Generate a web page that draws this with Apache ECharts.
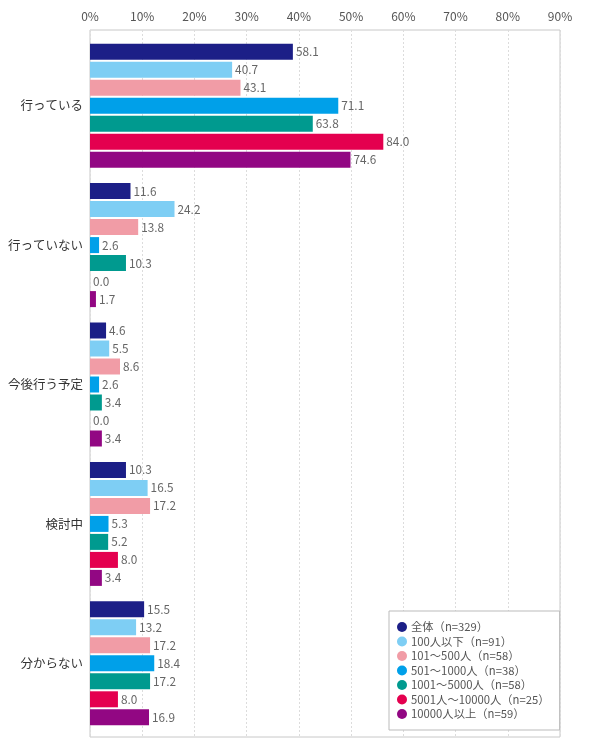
<!DOCTYPE html>
<html>
<head>
<meta charset="utf-8">
<script src="https://cdn.jsdelivr.net/npm/echarts@6/dist/echarts.min.js"></script>
<style>
html, body { margin: 0; padding: 0; background: #fff; }
#main { width: 590px; height: 752px; }
</style>
</head>
<body>
<div id="main"></div>
<script>
var categories = ['行っている', '行っていない', '今後行う予定', '検討中', '分からない'];
var groupNames = ['全体（n=329）', '100人以下（n=91）', '101～500人（n=58）', '501～1000人（n=38）',
                  '1001～5000人（n=58）', '5001人～10000人（n=25）', '10000人以上（n=59）'];
var colors = ['#1c1f87', '#7ecef4', '#f19ca6', '#00a0e9', '#009a8f', '#e4004f', '#920783'];

var all      = [58.1, 11.6, 4.6, 10.3, 15.5];
var under100 = [40.7, 24.2, 5.5, 16.5, 13.2];
var s101     = [43.1, 13.8, 8.6, 17.2, 17.2];
var s501     = [71.1, 2.6, 2.6, 5.3, 18.4];
var s1001    = [63.8, 10.3, 3.4, 5.2, 17.2];
var s5001    = [84.0, 0.0, 0.0, 8.0, 8.0];
var over10000 = [74.6, 1.7, 3.4, 3.4, 16.9];
var groups = [all, under100, s101, s501, s1001, s5001, over10000];

// the printed scale only reads 0-90%, but the bars in the source are drawn against a longer hidden scale
var tickLabels = [0, 10, 20, 30, 40, 50, 60, 70, 80, 90];
var barScaleMax = 134.6;

var myChart = echarts.init(document.getElementById('main'));

var series = [];
for (var i = 0; i < groups.length; i++) {
    series.push({
        name: groupNames[i],
        type: 'bar',
        xAxisIndex: 0,
        yAxisIndex: 0,
        barWidth: 16,
        barGap: '12.5%',
        itemStyle: { color: colors[i] },
        label: {
            show: true,
            position: 'right',
            distance: 3,
            color: '#666',
            fontSize: 11.8,
            fontFamily: 'Noto Sans CJK JP',
            formatter: function (p) { return p.value.toFixed(1); }
        },
        data: groups[i]
    });
}

var option = {
    animation: false,
    textStyle: { fontFamily: 'Noto Sans CJK JP' },
    grid: [
        { left: 90, right: 30, top: 36, bottom: 19 },
        { left: 90, right: 30, top: 30, bottom: 15, show: true, borderColor: '#c8c8c8', borderWidth: 1 }
    ],
    xAxis: [
        { type: 'value', gridIndex: 0, min: 0, max: barScaleMax, show: false },
        {
            type: 'value', gridIndex: 1, position: 'top', min: 0, max: 90, interval: 10,
            axisLine: { show: false },
            axisTick: { show: false },
            axisLabel: {
                color: '#555', fontSize: 12, margin: 8,
                formatter: function (v) { return tickLabels.indexOf(v) >= 0 ? v + '%' : ''; }
            },
            splitLine: { show: true, lineStyle: { color: '#dcdcdc', type: [2, 2] } }
        }
    ],
    yAxis: [
        {
            type: 'category', gridIndex: 0, inverse: true, data: categories,
            axisLine: { show: false },
            axisTick: { show: false },
            axisLabel: { color: '#333', fontSize: 12.5, margin: 7 }
        },
        { type: 'category', gridIndex: 1, data: categories, show: false }
    ],
    legend: {
        orient: 'vertical',
        left: 389,
        top: 611,
        padding: [10, 10, 10, 8],
        itemGap: 2.5,
        itemWidth: 10,
        itemHeight: 10,
        icon: 'circle',
        backgroundColor: '#fff',
        borderColor: '#bbb',
        borderWidth: 1,
        borderRadius: 0,
        textStyle: { color: '#555', fontSize: 11.3, lineHeight: 12, padding: [0, 0, 0, -1] },
        data: groupNames
    },
    series: series
};
myChart.setOption(option);
</script>
</body>
</html>
